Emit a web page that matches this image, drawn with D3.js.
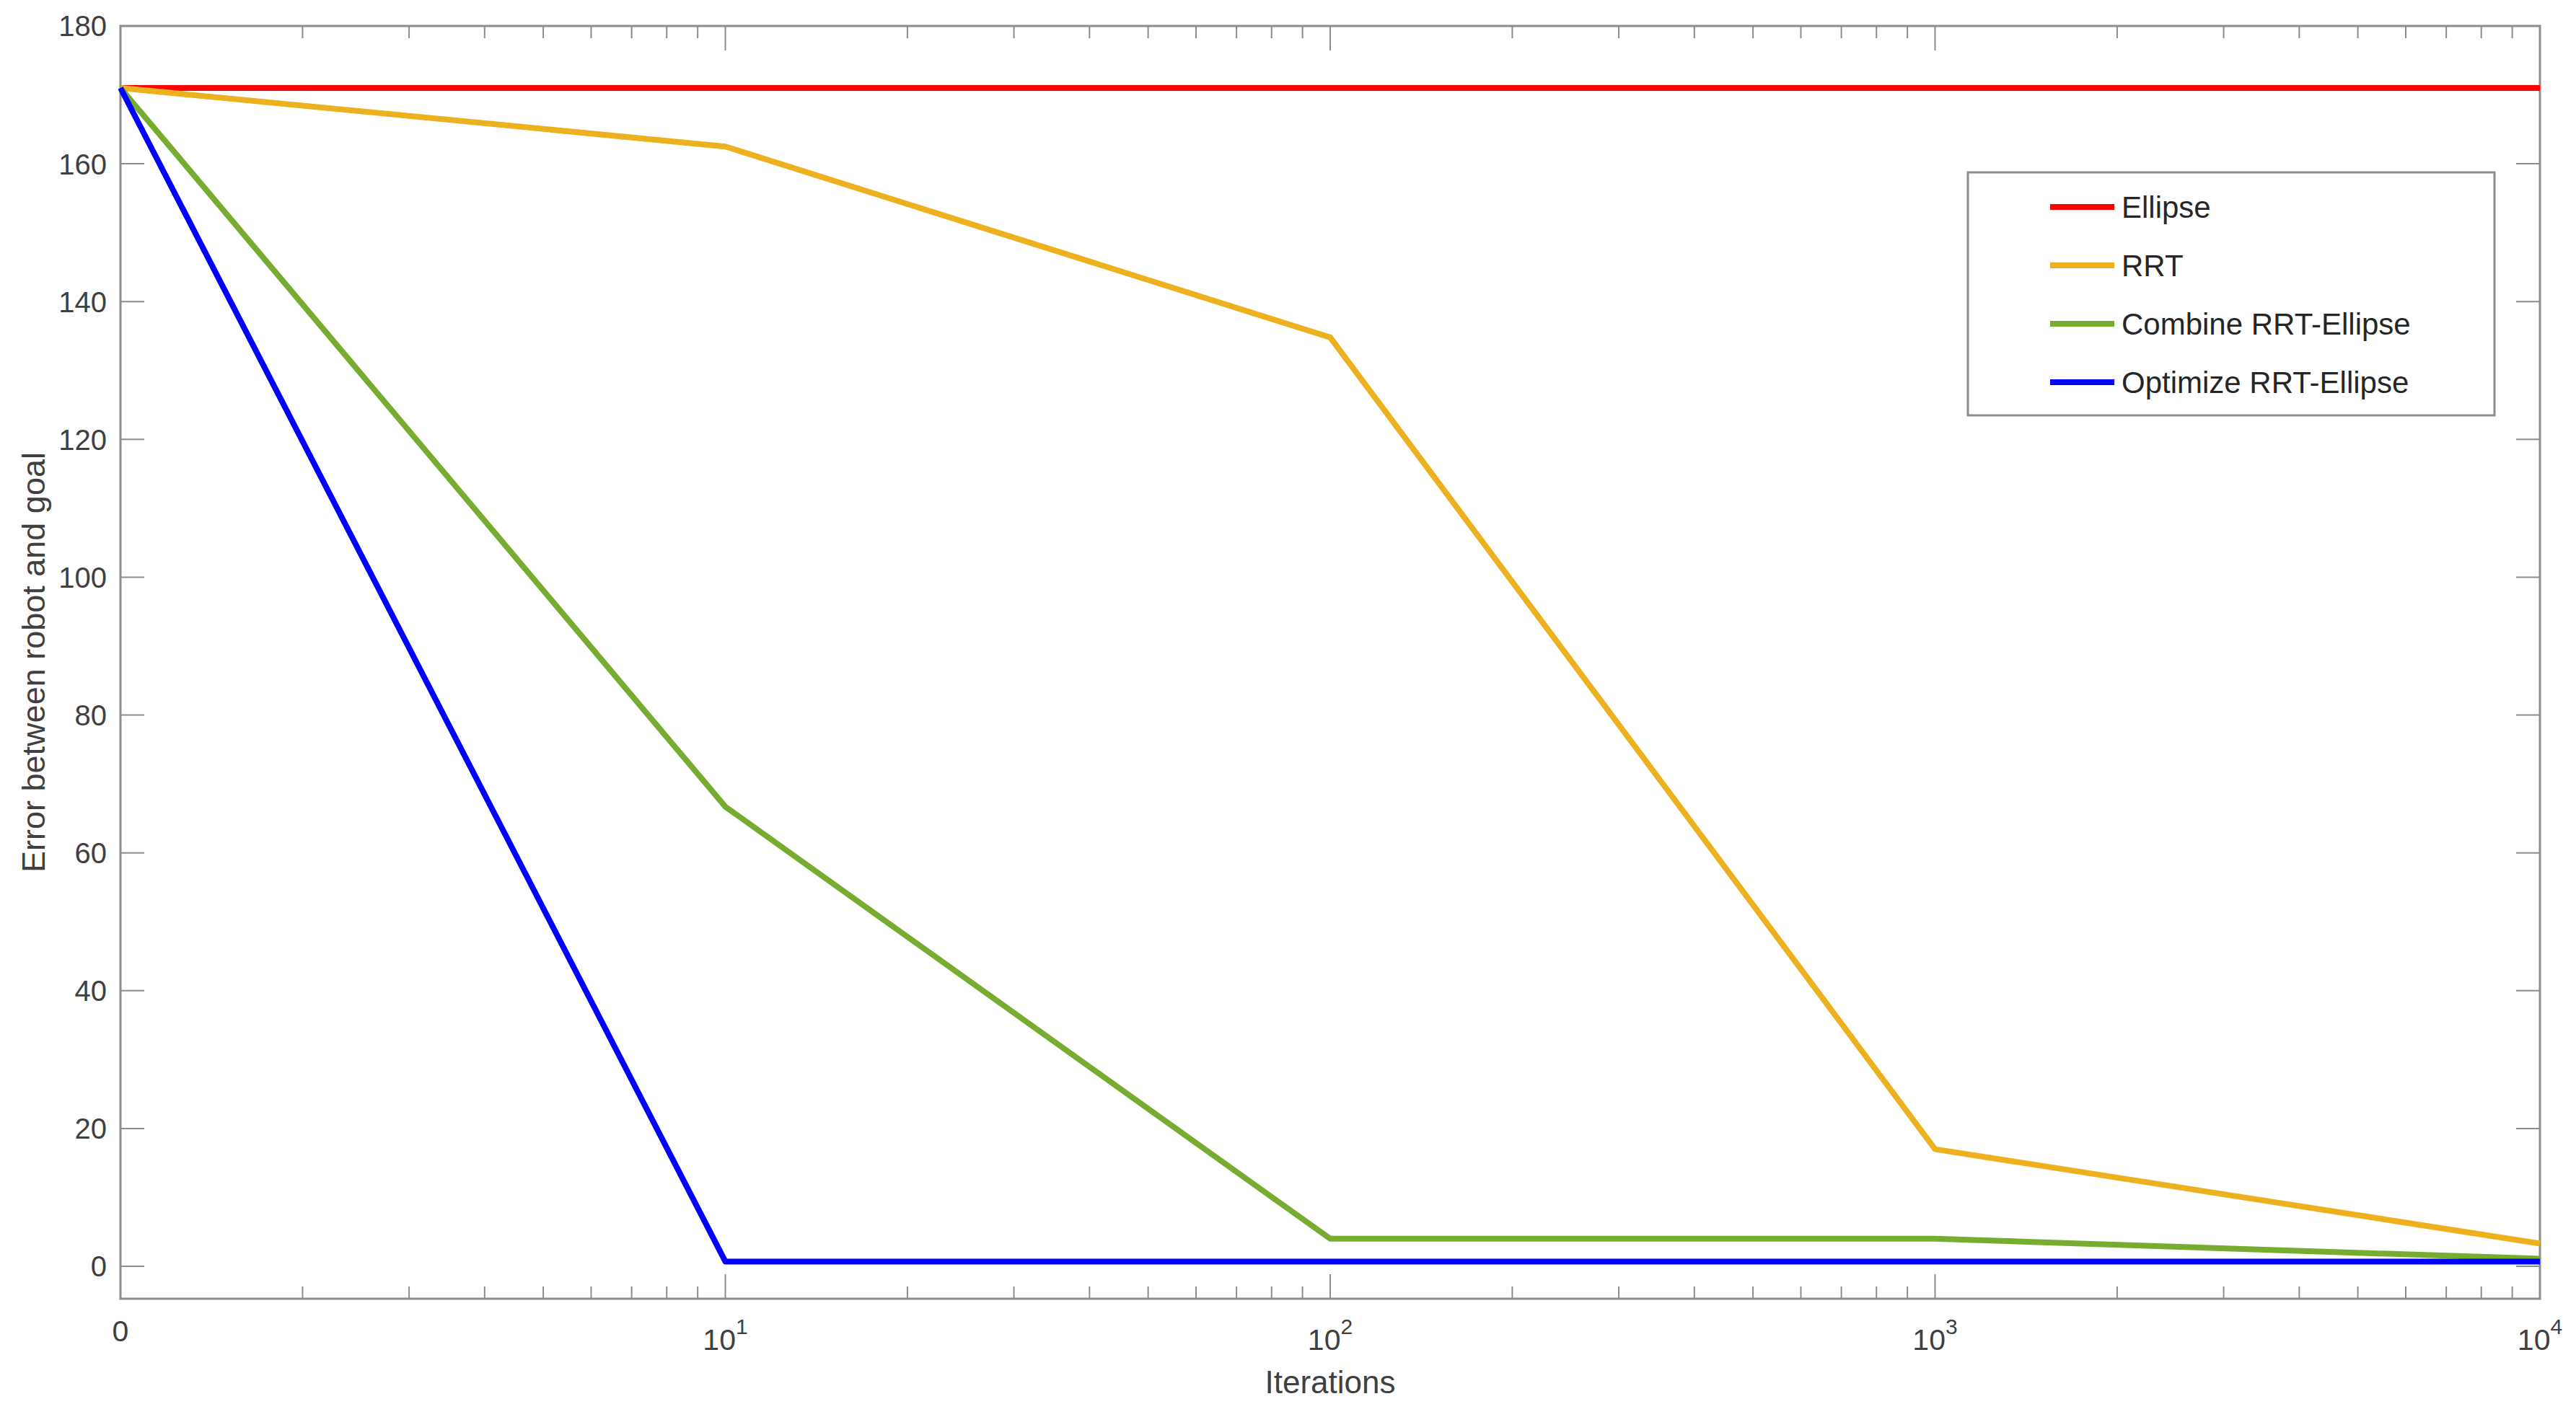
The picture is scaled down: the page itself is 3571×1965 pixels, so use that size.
<!DOCTYPE html>
<html>
<head>
<meta charset="utf-8">
<script src="https://cdn.jsdelivr.net/npm/d3@7"></script>
<style>
	body { margin: 0; background: #fff; }
	svg { display: block; }
	text { font-family: "Liberation Sans", Arial, Helvetica, sans-serif; }
</style>
</head>
<body>
<div id="chart"></div>
<script>

	// Chart data
	var iterations = [1, 10, 100, 1000, 10000];
	var seriesNames = ["Ellipse", "RRT", "Combine RRT-Ellipse", "Optimize RRT-Ellipse"];
	var ellipse = [171, 171, 171, 171, 171];
	var rrt = [171, 162.5, 134.8, 17, 3.3];
	var combine = [171, 66.7, 4, 4, 1.1];
	var optimize = [171, 0.7, 0.7, 0.7, 0.7];
	var seriesColors = ["#ff0000", "#edb120", "#77ac30", "#0000ff"];
	var yTicks = [0, 20, 40, 60, 80, 100, 120, 140, 160, 180];
	var xTicks = [1, 10, 100, 1000, 10000];
	var xTickLabels = ["0", "10|1", "10|2", "10|3", "10|4"];

	var W = 3571, H = 1965;
	var margin = {left: 167, right: 50, top: 36, bottom: 164};
	var axisColor = "#8c8c8c";
	var textColor = "#404040";

	var svg = d3.select('#chart').append('svg')
					.attr('width', W)
					.attr('height', H);

	// Scales
	var x = d3.scaleLog()
				.domain([1, 10000])
				.range([margin.left, W - margin.right]);
	var y = d3.scaleLinear()
				.domain([-4.7, 180])
				.range([H - margin.bottom, margin.top]);

	var x0 = x.range()[0], x1 = x.range()[1];
	var y0 = y.range()[0], y1 = y.range()[1];

	// minor ticks for the log axis
	var minor = [];
	[1, 10, 100, 1000].forEach(function(d) {
		for (var k = 2; k < 10; k++) minor.push(d * k);
	});

	var axes = svg.append('g');

	// y ticks, both sides, pointing in
	yTicks.forEach(function(v) {
		axes.append('line').attr('x1', x0).attr('x2', x0 + 33)
			.attr('y1', y(v)).attr('y2', y(v))
			.attr('stroke', axisColor).attr('stroke-width', 2);
		axes.append('line').attr('x1', x1).attr('x2', x1 - 33)
			.attr('y1', y(v)).attr('y2', y(v))
			.attr('stroke', axisColor).attr('stroke-width', 2);
		axes.append('text')
			.attr('x', x0 - 19)
			.attr('y', y(v))
			.attr('dy', '0.36em')
			.attr('text-anchor', 'end')
			.attr('font-size', 40)
			.attr('fill', textColor)
			.text(v);
	});

	// x ticks, bottom and top
	xTicks.forEach(function(v) {
		axes.append('line').attr('x1', x(v)).attr('x2', x(v))
			.attr('y1', y0).attr('y2', y0 - 34)
			.attr('stroke', axisColor).attr('stroke-width', 2);
		axes.append('line').attr('x1', x(v)).attr('x2', x(v))
			.attr('y1', y1).attr('y2', y1 + 34)
			.attr('stroke', axisColor).attr('stroke-width', 2);
	});
	minor.forEach(function(v) {
		axes.append('line').attr('x1', x(v)).attr('x2', x(v))
			.attr('y1', y0).attr('y2', y0 - 17)
			.attr('stroke', axisColor).attr('stroke-width', 2);
		axes.append('line').attr('x1', x(v)).attr('x2', x(v))
			.attr('y1', y1).attr('y2', y1 + 17)
			.attr('stroke', axisColor).attr('stroke-width', 2);
	});

	// x tick labels: "0" then powers of ten
	xTicks.forEach(function(v, i) {
		var parts = xTickLabels[i].split('|');
		var t = axes.append('text')
					.attr('x', x(v))
					.attr('y', parts.length > 1 ? 1872 : 1860)
					.attr('text-anchor', 'middle')
					.attr('font-size', 41)
					.attr('fill', textColor);
		t.append('tspan').text(parts[0]);
		if (parts.length > 1) {
			t.append('tspan')
				.attr('dy', -22)
				.attr('font-size', 30)
				.text(parts[1]);
		}
	});

	// Box
	axes.append('rect')
		.attr('x', x0).attr('y', y1)
		.attr('width', x1 - x0).attr('height', y0 - y1)
		.attr('fill', 'none')
		.attr('stroke', axisColor)
		.attr('stroke-width', 3);

	// Axis labels
	svg.append('text')
		.attr('x', (x0 + x1) / 2)
		.attr('y', 1932)
		.attr('text-anchor', 'middle')
		.attr('font-size', 44)
		.attr('fill', textColor)
		.text('Iterations');

	svg.append('text')
		.attr('transform', 'translate(62,' + ((y0 + y1) / 2) + ') rotate(-90)')
		.attr('text-anchor', 'middle')
		.attr('font-size', 45)
		.attr('fill', textColor)
		.text('Error between robot and goal');

	// Lines
	var allSeries = [ellipse, rrt, combine, optimize];
	var line = d3.line()
				.x(function(d, i) { return x(iterations[i]); })
				.y(function(d) { return y(d); });

	allSeries.forEach(function(s, i) {
		svg.append('path')
			.datum(s)
			.attr('d', line)
			.attr('fill', 'none')
			.attr('stroke', seriesColors[i])
			.attr('stroke-width', 8)
			.attr('stroke-linejoin', 'round');
	});

	// Legend
	var legend = svg.append('g');
	legend.append('rect')
		.attr('x', 2728).attr('y', 239)
		.attr('width', 730).attr('height', 337)
		.attr('fill', '#fff')
		.attr('stroke', axisColor)
		.attr('stroke-width', 3);

	seriesNames.forEach(function(name, i) {
		var ly = 287 + i * 81;
		legend.append('line')
			.attr('x1', 2842).attr('x2', 2931)
			.attr('y1', ly).attr('y2', ly)
			.attr('stroke', seriesColors[i])
			.attr('stroke-width', 8);
		legend.append('text')
			.attr('x', 2941)
			.attr('y', ly)
			.attr('dy', '0.36em')
			.attr('font-size', 42)
			.attr('fill', '#262626')
			.text(name);
	});

</script>
</body>
</html>
